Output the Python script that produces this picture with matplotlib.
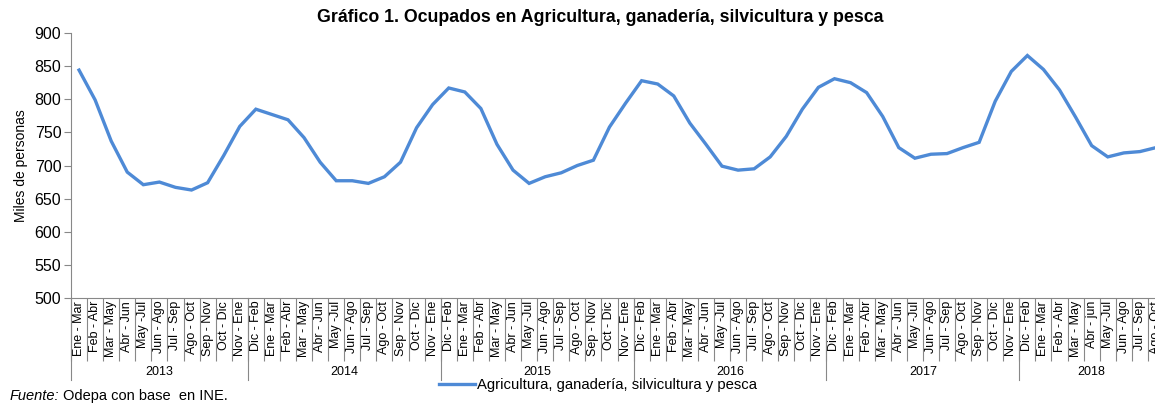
import numpy as np
import matplotlib.pyplot as plt

plt.rcParams['font.family'] = ['Liberation Sans', 'DejaVu Sans']

# Trimestres móviles, agrupados por año
years = ['2013', '2014', '2015', '2016', '2017', '2018']
periods_2013 = ['Ene - Mar', 'Feb - Abr', 'Mar - May', 'Abr - Jun', 'May -Jul', 'Jun - Ago',
                'Jul - Sep', 'Ago - Oct', 'Sep - Nov', 'Oct - Dic', 'Nov - Ene']
periods_full = ['Dic - Feb', 'Ene - Mar', 'Feb - Abr', 'Mar - May', 'Abr - Jun', 'May -Jul',
                'Jun - Ago', 'Jul - Sep', 'Ago - Oct', 'Sep - Nov', 'Oct - Dic', 'Nov - Ene']
periods_2018 = ['Dic - Feb', 'Ene - Mar', 'Feb - Abr', 'Mar - May', 'Abr - jun', 'May -Jul',
                'Jun - Ago', 'Jul - Sep', 'Ago - Oct']
groups = [periods_2013, periods_full, periods_full, periods_full, periods_full, periods_2018]

# Miles de personas
ocupados = [844, 799, 737, 690, 671, 675, 667, 663, 674, 715, 759,
            785, 777, 769, 742, 705, 677, 677, 673, 683, 705, 757, 792,
            817, 811, 786, 732, 693, 673, 683, 689, 700, 708, 758, 794,
            828, 823, 805, 764, 732, 699, 693, 695, 713, 744, 785, 818,
            831, 825, 810, 774, 727, 711, 717, 718, 727, 735, 797, 842,
            866, 845, 814, 773, 730, 713, 719, 721, 727]

labels = [p for g in groups for p in g]
x = np.arange(len(labels))

fig = plt.figure(figsize=(11.55, 4.03), dpi=100)
ax = fig.add_axes([71 / 1155, 1 - 298 / 403, 1093 / 1155, 265 / 403])

ax.plot(x, ocupados, color='#4E8AD6', lw=2.4, solid_joinstyle='miter',
        label='Agricultura, ganadería, silvicultura y pesca')

ax.set_xlim(-0.5, len(labels) - 0.5)
ax.set_ylim(500, 900)
ax.set_yticks(np.arange(500, 901, 50))
ax.tick_params(axis='y', labelsize=11.5, length=5, color='#888888', pad=2)

ax.set_xticks(x)
ax.set_xticklabels(labels, rotation=90, fontsize=9)
ax.tick_params(axis='x', length=0, pad=2)
ax.set_xticks(np.arange(-0.5, len(labels), 1), minor=True)
ax.tick_params(axis='x', which='minor', length=45, color='#888888', width=0.8)

for s in ['top', 'right']:
    ax.spines[s].set_visible(False)
for s in ['left', 'bottom']:
    ax.spines[s].set_color('#888888')

ax.set_ylabel('Miles de personas', fontsize=10, labelpad=5)

# separadores y etiquetas de año
trans = ax.get_xaxis_transform()
start = -0.5
for yr, g in zip(years, groups):
    ax.plot([start, start], [0, -0.31], transform=trans, color='#888888', lw=0.8, clip_on=False)
    ax.text(start + len(g) / 2, -0.28, yr, transform=trans, ha='center', va='center', fontsize=9)
    start += len(g)

ax.legend(loc='center', bbox_to_anchor=(598 / 1155, 1 - 385 / 403), bbox_transform=fig.transFigure,
          frameon=False, fontsize=10.7, handlelength=2.4, handletextpad=0.1)

fig.text(600 / 1155, 1 - 18 / 403, 'Gráfico 1. Ocupados en Agricultura, ganadería, silvicultura y pesca',
         ha='center', va='center', fontsize=12.8, fontweight='bold')
fig.text(10 / 1155, 1 - 396 / 403, 'Fuente:', ha='left', va='center', fontsize=10.5, style='italic')
fig.text(63 / 1155, 1 - 396 / 403, 'Odepa con base  en INE.', ha='left', va='center', fontsize=10.5)

fig.savefig('out.png', dpi=100)
